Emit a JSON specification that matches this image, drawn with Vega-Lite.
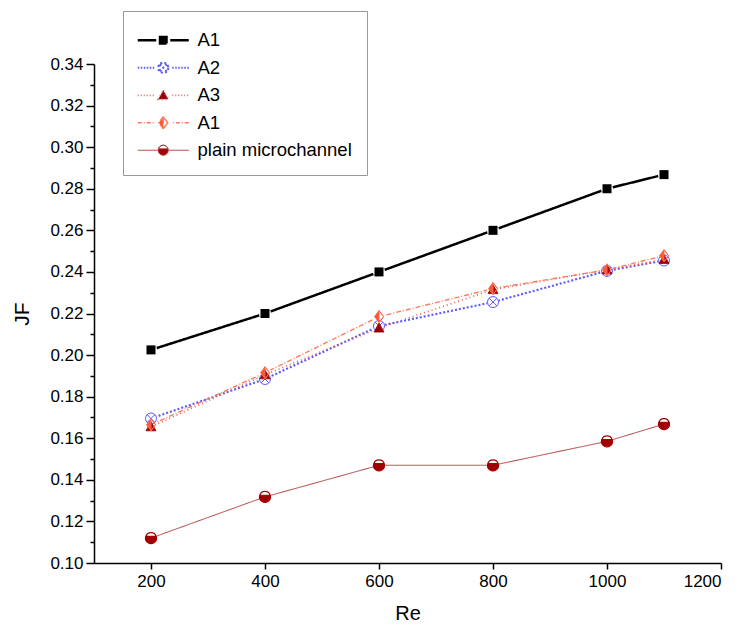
{
  "$schema": "https://vega.github.io/schema/vega-lite/v6.json",
  "width": 627,
  "height": 499,
  "autosize": "none",
  "padding": {"left": 94, "top": 64, "right": 21, "bottom": 67},
  "background": "white",
  "config": {"view": {"stroke": null}, "font": "Liberation Sans"},
  "data": {
    "values": [
      {"series": "s1", "Re": 200, "JF": 0.2025},
      {"series": "s1", "Re": 400, "JF": 0.2200},
      {"series": "s1", "Re": 600, "JF": 0.2400},
      {"series": "s1", "Re": 800, "JF": 0.2600},
      {"series": "s1", "Re": 1000, "JF": 0.2800},
      {"series": "s1", "Re": 1100, "JF": 0.2868},
      {"series": "s2", "Re": 200, "JF": 0.1695},
      {"series": "s2", "Re": 400, "JF": 0.1885},
      {"series": "s2", "Re": 600, "JF": 0.2140},
      {"series": "s2", "Re": 800, "JF": 0.2255},
      {"series": "s2", "Re": 1000, "JF": 0.2405},
      {"series": "s2", "Re": 1100, "JF": 0.2455},
      {"series": "s3", "Re": 200, "JF": 0.1655},
      {"series": "s3", "Re": 400, "JF": 0.1905},
      {"series": "s3", "Re": 600, "JF": 0.2130},
      {"series": "s3", "Re": 800, "JF": 0.2315},
      {"series": "s3", "Re": 1000, "JF": 0.2410},
      {"series": "s3", "Re": 1100, "JF": 0.2460},
      {"series": "s4", "Re": 200, "JF": 0.1665},
      {"series": "s4", "Re": 400, "JF": 0.1915},
      {"series": "s4", "Re": 600, "JF": 0.2185},
      {"series": "s4", "Re": 800, "JF": 0.2320},
      {"series": "s4", "Re": 1000, "JF": 0.2410},
      {"series": "s4", "Re": 1100, "JF": 0.2478},
      {"series": "s5", "Re": 200, "JF": 0.1120},
      {"series": "s5", "Re": 400, "JF": 0.1318},
      {"series": "s5", "Re": 600, "JF": 0.1470},
      {"series": "s5", "Re": 800, "JF": 0.1470},
      {"series": "s5", "Re": 1000, "JF": 0.1585},
      {"series": "s5", "Re": 1100, "JF": 0.1668}
    ]
  },
  "encoding": {
    "x": {
      "field": "Re",
      "type": "quantitative",
      "scale": {"domain": [100, 1200], "nice": false, "zero": false},
      "axis": {
        "title": "Re",
        "values": [200, 400, 600, 800, 1000, 1200],
        "format": "d",
        "grid": false,
        "domainColor": "black",
        "domainWidth": 1.5,
        "tickColor": "black",
        "tickWidth": 1.5,
        "tickSize": 6,
        "labelFont": "Liberation Sans",
        "labelFontSize": 17,
        "labelColor": "black",
        "labelPadding": 4,
        "titleFont": "Liberation Sans",
        "titleFontSize": 20,
        "titleFontWeight": "normal",
        "titleColor": "black",
        "titlePadding": 14
      }
    },
    "y": {
      "field": "JF",
      "type": "quantitative",
      "scale": {"domain": [0.1, 0.34], "nice": false, "zero": false},
      "axis": {
        "title": "JF",
        "values": [0.10, 0.11, 0.12, 0.13, 0.14, 0.15, 0.16, 0.17, 0.18, 0.19, 0.20, 0.21, 0.22, 0.23, 0.24, 0.25, 0.26, 0.27, 0.28, 0.29, 0.30, 0.31, 0.32, 0.33, 0.34],
        "labelExpr": "round(datum.value*100) % 2 === 0 ? format(datum.value, '.2f') : ''",
        "labelOverlap": false,
        "grid": false,
        "domainColor": "black",
        "domainWidth": 1.5,
        "tickColor": "black",
        "tickWidth": 1.5,
        "tickSize": {"condition": {"test": "round(datum.value*100) % 2 === 0", "value": 8}, "value": 4},
        "labelFont": "Liberation Sans",
        "labelFontSize": 17,
        "labelColor": "black",
        "labelPadding": 3,
        "titleFont": "Liberation Sans",
        "titleFontSize": 21,
        "titleFontWeight": "normal",
        "titleColor": "black",
        "titlePadding": 17
      }
    }
  },
  "layer": [
    {
      "mark": {"type": "line"},
      "encoding": {
        "color": {
          "field": "series",
          "type": "nominal",
          "scale": {"domain": ["s1", "s2", "s3", "s4", "s5"], "range": ["#000000", "#5a5aff", "#e06666", "#ff7a5c", "#b03a3a"]},
          "legend": {
            "orient": "none",
            "legendX": 29,
            "legendY": -53,
            "title": " ",
            "titleFontSize": 4,
            "titlePadding": 1,
            "labelExpr": "datum.value === 's1' ? 'A1' : datum.value === 's2' ? 'A2' : datum.value === 's3' ? 'A3' : datum.value === 's4' ? 'A1' : 'plain microchannel'",
            "labelFont": "Liberation Sans",
            "labelFontSize": 18.5,
            "labelColor": "black",
            "symbolSize": 100,
            "symbolOffset": 16,
            "labelOffset": 25,
            "rowPadding": 8.5,
            "padding": 15,
            "strokeColor": "#999999",
            "fillColor": "white",
            "encode": {
              "symbols": {
                "update": {
                  "shape": {"signal": "datum.value === 's1' ? 'M-5.1,0H-1.4M1.4,0H5.1M-0.65,-0.65H0.65V0.65H-0.65Z' : datum.value === 's2' ? 'M-5.1,0h0.3M-4.5,0h0.3M-3.9,0h0.3M-3.3,0h0.3M-2.7,0h0.3M-2.1,0h0.3M1.8,0h0.3M2.4,0h0.3M3.0,0h0.3M3.6,0h0.3M4.2,0h0.3M4.8,0h0.3M1,0A1,1 0 1,1 -1,0A1,1 0 1,1 1,0M-0.7,-0.7L0.7,0.7M-0.7,0.7L0.7,-0.7' : datum.value === 's3' ? 'M-5.1,0h0.3M-4.5,0h0.3M-3.9,0h0.3M-3.3,0h0.3M-2.7,0h0.3M-2.1,0h0.3M1.8,0h0.3M2.4,0h0.3M3.0,0h0.3M3.6,0h0.3M4.2,0h0.3M4.8,0h0.3M0,-1L1,0.8H-1Z' : datum.value === 's4' ? 'M-5.1,0h0.8M-3.9,0h0.2M-3.3,0h0.8M-2.1,0h0.2M1.9,0h0.2M2.5,0h0.8M3.7,0h0.2M4.3,0h0.8M0,-1.2L-0.9,0L0,1.2ZM0,-1.2L0.9,0L0,1.2L0.9,0Z' : 'M-5.1,0H-1.1M1.1,0H5.1M-0.954,-0.3A1,1 0 1,0 0.954,-0.3ZM-0.954,-0.3A1,1 0 0,1 0.954,-0.3A1,1 0 0,0 -0.954,-0.3'"},
                  "fill": {"signal": "datum.value === 's1' ? '#000000' : datum.value === 's2' ? 'transparent' : datum.value === 's3' ? '#990000' : datum.value === 's4' ? '#ff5533' : '#a00000'"},
                  "stroke": {"signal": "datum.value === 's1' ? '#000000' : datum.value === 's2' ? '#5a5aff' : datum.value === 's3' ? '#d04848' : datum.value === 's4' ? '#ff6a4d' : '#a83030'"},
                  "strokeWidth": {"signal": "datum.value === 's1' ? 2.5 : 1"},
                  "strokeDash": {"value": []},
                  "opacity": {"value": 1},
                  "size": {"value": 100}
                }
              }
            }
          }
        },
        "strokeDash": {
          "field": "series",
          "type": "nominal",
          "scale": {"domain": ["s1", "s2", "s3", "s4", "s5"], "range": [[1, 0], [2, 2], [1, 3], [5, 2, 1, 2], [1, 0]]},
          "legend": null
        },
        "strokeWidth": {
          "field": "series",
          "type": "nominal",
          "scale": {"domain": ["s1", "s2", "s3", "s4", "s5"], "range": [2.5, 1, 1, 1, 1]},
          "legend": null
        }
      }
    },
    {
      "mark": {"type": "point", "shape": "circle", "filled": true, "fill": "white", "strokeWidth": 0, "size": 150, "opacity": 1}
    },
    {
      "transform": [{"filter": "datum.series === 's1'"}],
      "mark": {"type": "point", "shape": "square", "filled": true, "fill": "#000000", "strokeWidth": 0, "size": 81, "opacity": 1}
    },
    {
      "transform": [{"filter": "datum.series === 's2'"}],
      "mark": {"type": "point", "shape": "M1,0A1,1 0 1,1 -1,0A1,1 0 1,1 1,0M-0.7,-0.7L0.7,0.7M-0.7,0.7L0.7,-0.7", "filled": false, "fill": "transparent", "stroke": "#5a5aff", "strokeWidth": 1, "size": 121, "opacity": 1}
    },
    {
      "transform": [{"filter": "datum.series === 's3'"}],
      "mark": {"type": "point", "shape": "M0,-1L1,0.8H-1Z", "filled": true, "fill": "#990000", "stroke": "#990000", "strokeWidth": 0.8, "size": 100, "opacity": 1}
    },
    {
      "transform": [{"filter": "datum.series === 's4'"}],
      "mark": {"type": "point", "shape": "M0,-1.2L-0.9,0L0,1.2ZM0,-1.2L0.9,0L0,1.2L0.9,0Z", "filled": true, "fill": "#ff5533", "stroke": "#ff6a4d", "strokeWidth": 1, "size": 100, "opacity": 1}
    },
    {
      "transform": [{"filter": "datum.series === 's5'"}],
      "mark": {"type": "point", "shape": "M-0.954,-0.3A1,1 0 1,0 0.954,-0.3ZM-0.954,-0.3A1,1 0 0,1 0.954,-0.3A1,1 0 0,0 -0.954,-0.3", "filled": true, "fill": "#a00000", "stroke": "#a00000", "strokeWidth": 1.2, "size": 121, "opacity": 1}
    }
  ]
}
